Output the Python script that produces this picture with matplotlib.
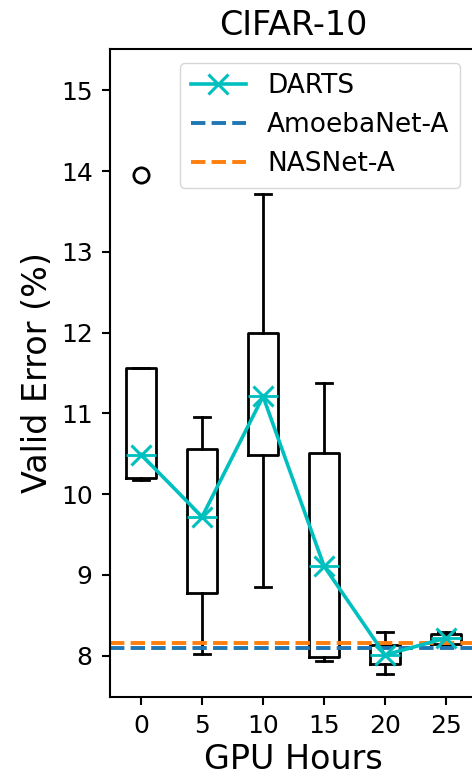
import matplotlib
matplotlib.use("Agg")
import matplotlib.pyplot as plt

# Data
gpu_hours = [0, 5, 10, 15, 20, 25]
q1 = [10.20, 8.78, 10.48, 7.99, 7.90, 8.14]
med = [10.49, 9.72, 11.21, 9.11, 8.01, 8.22]
q3 = [11.56, 10.56, 11.99, 10.51, 8.13, 8.27]
whislo = [10.17, 8.02, 8.85, 7.93, 7.77, 8.13]
whishi = [11.56, 10.95, 13.71, 11.38, 8.29, 8.29]
fliers = [[13.95], [], [], [], [], []]
amoebanet = 8.10
nasnet = 8.16

fig = plt.figure(figsize=(4.72, 7.78), dpi=100)
ax = fig.add_axes([110/472, 81/778, 366.5/472, 648/778])

stats = []
for i in range(len(gpu_hours)):
    stats.append(dict(med=med[i], q1=q1[i], q3=q3[i], whislo=whislo[i],
                      whishi=whishi[i], fliers=fliers[i]))

lw = 2.0
ax.bxp(stats, positions=gpu_hours, widths=2.5, manage_ticks=False,
       boxprops=dict(color='black', linewidth=lw),
       whiskerprops=dict(color='black', linewidth=lw),
       capprops=dict(color='black', linewidth=lw),
       medianprops=dict(color='c', linewidth=lw),
       flierprops=dict(marker='o', markerfacecolor='none', markeredgecolor='black',
                       markersize=11, markeredgewidth=2))

ax.plot(gpu_hours, med, color='c', marker='x', markersize=14, markeredgewidth=2.2,
        linewidth=2.6, label='DARTS', zorder=3)
ax.axhline(amoebanet, color='#1f77b4', linestyle='--', linewidth=2.8, label='AmoebaNet-A')
ax.axhline(nasnet, color='#ff7f0e', linestyle='--', linewidth=2.8, label='NASNet-A')

ax.set_xlim(-2.55, 27.5)
ax.set_ylim(7.49, 15.51)
ax.set_xticks(gpu_hours)
ax.set_yticks([8, 9, 10, 11, 12, 13, 14, 15])
ax.tick_params(labelsize=18, width=1.5, length=6, pad=6.5)
for s in ax.spines.values():
    s.set_linewidth(1.5)

ax.set_title('CIFAR-10', fontsize=24, pad=10)
ax.set_xlabel('GPU Hours', fontsize=24, labelpad=3)
ax.set_ylabel('Valid Error (%)', fontsize=24, labelpad=5)

ax.legend(loc='upper left', bbox_to_anchor=(180/472, 1 - 62.5/778),
          bbox_transform=fig.transFigure, borderaxespad=0, fontsize=19,
          handlelength=2.1)

fig.savefig('out.png', dpi=100)
